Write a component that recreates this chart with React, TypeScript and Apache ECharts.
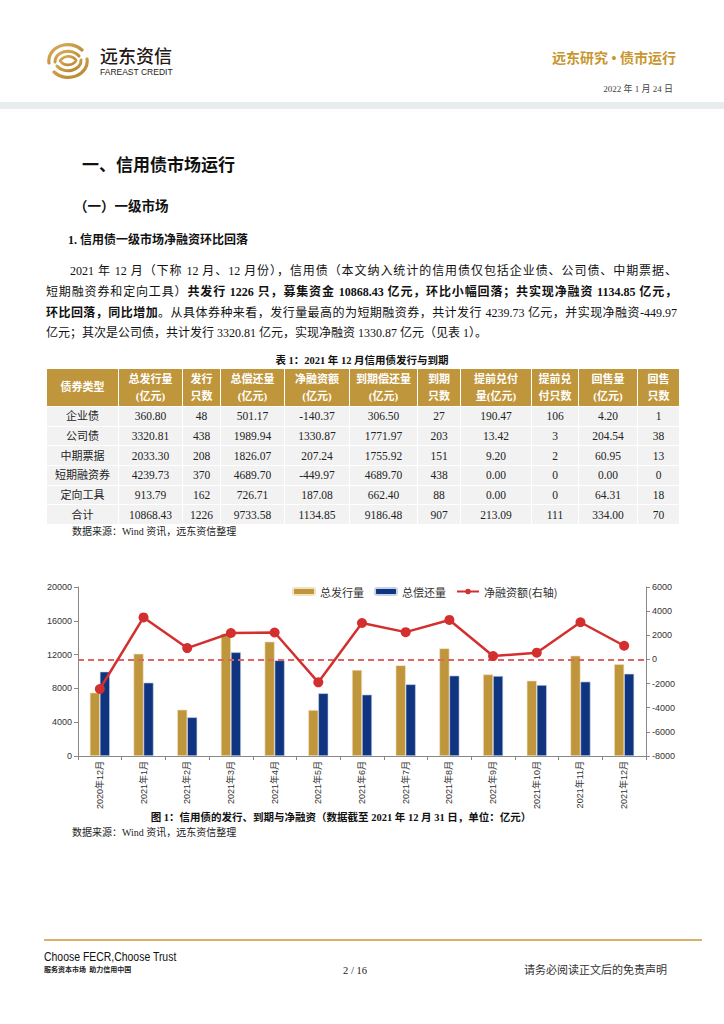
import React, { useEffect, useRef } from "react";
import * as echarts from "echarts";

// ---------- chart data ----------
const categories = [
  "2020年12月", "2021年1月", "2021年2月", "2021年3月", "2021年4月", "2021年5月", "2021年6月",
  "2021年7月", "2021年8月", "2021年9月", "2021年10月", "2021年11月", "2021年12月",
];
const issuance = [7500, 12100, 5480, 14480, 13530, 5440, 10180, 10730, 12740, 9660, 8920, 11870, 10868.43];
const repayment = [9980, 8680, 4580, 12270, 11320, 7420, 7260, 8480, 9510, 9470, 8400, 8800, 9733.58];
const netFinancing = [-2450, 3480, 940, 2190, 2230, -1900, 3020, 2260, 3270, 280, 560, 3080, 1134.85];

const seriesNames = ["总发行量", "总偿还量", "净融资额(右轴)"];

// ---------- table data ----------
const tableHeaderTop = ["债券类型", "总发行量", "发行", "总偿还量", "净融资额", "到期偿还量", "到期", "提前兑付", "提前兑", "回售量", "回售"];
const tableHeaderBottom = ["", "(亿元)", "只数", "(亿元)", "(亿元)", "(亿元)", "只数", "量(亿元)", "付只数", "(亿元)", "只数"];
const rowNames = ["企业债", "公司债", "中期票据", "短期融资券", "定向工具", "合计"];
const rowValues = [
  ["360.80", "48", "501.17", "-140.37", "306.50", "27", "190.47", "106", "4.20", "1"],
  ["3320.81", "438", "1989.94", "1330.87", "1771.97", "203", "13.42", "3", "204.54", "38"],
  ["2033.30", "208", "1826.07", "207.24", "1755.92", "151", "9.20", "2", "60.95", "13"],
  ["4239.73", "370", "4689.70", "-449.97", "4689.70", "438", "0.00", "0", "0.00", "0"],
  ["913.79", "162", "726.71", "187.08", "662.40", "88", "0.00", "0", "64.31", "18"],
  ["10868.43", "1226", "9733.58", "1134.85", "9186.48", "907", "213.09", "111", "334.00", "70"],
];

// layout constants
const colWidths = [72, 64, 38, 64, 65, 68, 43, 71, 47, 59, 42];

const SERIF = '"Liberation Serif", "Noto Sans CJK SC", serif';
const SANS = '"Liberation Sans", "Noto Sans CJK SC", sans-serif';

const GOLD = "#C0963C";
const BLUE = "#0F3581";
const RED = "#D42F2F";

function T(props: {
  x: number; cy: number; fs: number; children: any; bold?: boolean; color?: string;
  font?: string; align?: "left" | "right" | "center"; w?: number; style?: any; lhf?: number;
}) {
  const { x, cy, fs, children, bold, color, font, align, w, style, lhf } = props;
  const lh = fs * (lhf || 1.4);
  const base: any = {
    position: "absolute",
    top: cy - lh / 2,
    fontSize: fs,
    lineHeight: lh + "px",
    fontWeight: bold ? 700 : 400,
    color: color || "#111",
    fontFamily: font || SERIF,
    whiteSpace: "nowrap",
  };
  if (align === "right") { base.right = 724 - x; base.textAlign = "right"; }
  else if (align === "center") { base.left = x - (w || 400) / 2; base.width = w || 400; base.textAlign = "center"; }
  else { base.left = x; }
  return <div style={{ ...base, ...style }}>{children}</div>;
}

function Chart() {
  const ref = useRef<HTMLDivElement>(null);
  useEffect(() => {
    if (!ref.current) return;
    const chart = echarts.init(ref.current, undefined, { renderer: "svg" });
    const axisLineStyle = { color: "#888", width: 1 };
    const plain = (v: number) => String(v);
    chart.setOption({
      animation: false,
      textStyle: { fontFamily: SANS },
      legend: {
        left: 267,
        top: 11,
        itemWidth: 22,
        itemHeight: 7,
        itemGap: 10,
        textStyle: { fontSize: 11, color: "#333", fontFamily: '"Noto Sans CJK SC", sans-serif' },
        data: seriesNames,
      },
      grid: { left: 58, right: 54, top: 17, bottom: 64 },
      xAxis: {
        type: "category",
        data: categories,
        axisLine: { lineStyle: axisLineStyle },
        axisTick: { show: true, length: 4, lineStyle: axisLineStyle },
        axisLabel: { rotate: 90, fontSize: 9, color: "#333", margin: 5, interval: 0 },
      },
      yAxis: [
        {
          type: "value", min: 0, max: 20000, interval: 4000,
          axisLine: { show: true, lineStyle: axisLineStyle },
          axisTick: { show: true, length: 4, lineStyle: axisLineStyle },
          splitLine: { show: false },
          axisLabel: { fontSize: 9, color: "#333", margin: 6, formatter: plain },
        },
        {
          type: "value", position: "right", min: -8000, max: 6000, interval: 2000,
          axisLine: { show: true, lineStyle: axisLineStyle },
          axisTick: { show: true, length: 4, lineStyle: axisLineStyle },
          splitLine: { show: false },
          axisLabel: { fontSize: 9, color: "#333", margin: 6, formatter: plain },
        },
      ],
      series: [
        {
          name: seriesNames[0], type: "bar", data: issuance, barWidth: 10, barGap: "0%",
          itemStyle: { color: GOLD, borderColor: "#F1E2C0", borderWidth: 0.6 },
        },
        {
          name: seriesNames[1], type: "bar", data: repayment, barWidth: 10, barGap: "0%",
          itemStyle: { color: BLUE, borderColor: "#C8D2E6", borderWidth: 0.6 },
        },
        {
          name: seriesNames[2], type: "line", yAxisIndex: 1, data: netFinancing,
          symbol: "circle", symbolSize: 10, z: 5,
          lineStyle: { width: 2.5, color: RED },
          itemStyle: { color: RED },
          markLine: {
            silent: true, symbol: "none", label: { show: false },
            lineStyle: { type: [6, 4], color: "#E06666", width: 2 },
            data: [{ yAxis: 0 }],
          },
        },
      ],
    });
    return () => chart.dispose();
  }, []);
  return (
    <div ref={ref} style={{ position: "absolute", left: 20, top: 570, width: 680, height: 250 }} />
  );
}

function Logo() {
  const stroke = "url(#goldg)";
  return (
    <svg width={44} height={36} viewBox="0 0 44 36" style={{ position: "absolute", left: 46, top: 43 }}>
      <defs>
        <linearGradient id="goldg" x1="0" y1="0" x2="1" y2="1">
          <stop offset="0" stopColor="#D8AE5C" />
          <stop offset="1" stopColor="#B5842E" />
        </linearGradient>
      </defs>
      <g fill="none" stroke={stroke} strokeLinecap="round">
        <path d="M3 20 A19 16 0 0 1 36 7" strokeWidth={3.2} />
        <path d="M41 16 A19 16 0 0 1 8 29" strokeWidth={3.2} />
        <path d="M9 19 A13 10 0 0 1 33 13" strokeWidth={3} />
        <path d="M35 17 A13 10 0 0 1 11 23" strokeWidth={3} />
        <path d="M14 18 C18 12 26 12 30 17" strokeWidth={2.6} />
        <path d="M30 18 C26 23 19 23 15 19" strokeWidth={2.6} />
      </g>
    </svg>
  );
}

function JLine(props: { top: number; children: any; indent?: number; last?: boolean }) {
  const { top, children, indent, last } = props;
  return (
    <div
      style={{
        position: "absolute",
        left: 46 + (indent || 0),
        top,
        width: 631 - (indent || 0),
        fontSize: 12,
        lineHeight: "20px",
        fontFamily: SERIF,
        color: "#111",
        textAlign: "justify",
        textAlignLast: last ? "left" : "justify",
        whiteSpace: "nowrap",
      } as any}
    >
      {children}
    </div>
  );
}

function Table() {
  const cellBase: any = {
    border: "1.5px solid #fff",
    padding: 0,
    textAlign: "center",
    overflow: "hidden",
    whiteSpace: "nowrap",
  };
  return (
    <table
      style={{
        position: "absolute", left: 46, top: 368, width: 633, borderCollapse: "collapse",
        tableLayout: "fixed", fontFamily: SERIF,
      }}
    >
      <colgroup>
        {colWidths.map((w, i) => <col key={i} style={{ width: w }} />)}
      </colgroup>
      <tbody>
        <tr style={{ height: 38 }}>
          {tableHeaderTop.map((h, i) => (
            <td key={i} style={{ ...cellBase, background: GOLD, color: "#fff", fontWeight: 700, fontSize: 11, lineHeight: "17px" }}>
              {h}
              {tableHeaderBottom[i] ? <><br />{tableHeaderBottom[i]}</> : null}
            </td>
          ))}
        </tr>
        {rowNames.map((name, r) => (
          <tr key={r} style={{ height: 19.7 }}>
            <td style={{ ...cellBase, background: "#F2F2F2", fontSize: 11, color: "#222", lineHeight: "16px" }}>{name}</td>
            {rowValues[r].map((v, c) => (
              <td key={c} style={{ ...cellBase, background: "#F2F2F2", fontSize: 11.5, color: "#222", lineHeight: "16px" }}>{v}</td>
            ))}
          </tr>
        ))}
      </tbody>
    </table>
  );
}

export default function App() {
  return (
    <div style={{ position: "absolute", left: 0, top: 0, width: 724, height: 1024, background: "#fff", overflow: "hidden" }}>
      {/* header */}
      <Logo />
      <T x={100} cy={56} fs={18} lhf={1.1} font='"Noto Sans CJK SC", sans-serif' color="#231815" style={{ fontWeight: 500 }}>远东资信</T>
      <T x={100} cy={72.5} fs={8.5} lhf={1.1} font={SANS} color="#231815">FAREAST CREDIT</T>
      <T x={676} cy={59} fs={14} bold color="#C8962E" align="right">远东研究 • 债市运行</T>
      <T x={673} cy={89} fs={9} color="#444" align="right">2022 年 1 月 24 日</T>
      <div style={{ position: "absolute", left: 0, top: 102, width: 724, height: 7, background: "#E8ECEC" }} />

      {/* headings */}
      <T x={82} cy={166} fs={17} bold>一、信用债市场运行</T>
      <T x={74} cy={207} fs={13.5} bold>（一）一级市场</T>
      <T x={68} cy={240} fs={12} bold>1. 信用债一级市场净融资环比回落</T>

      {/* paragraph */}
      <JLine top={261} indent={24}>2021 年 12 月（下称 12 月、12 月份），信用债（本文纳入统计的信用债仅包括企业债、公司债、中期票据、</JLine>
      <JLine top={282}>短期融资券和定向工具）<b>共发行 1226 只，募集资金 10868.43 亿元，环比小幅回落；共实现净融资 1134.85 亿元，</b></JLine>
      <JLine top={303}><b>环比回落，同比增加</b>。从具体券种来看，发行量最高的为短期融资券，共计发行 4239.73 亿元，并实现净融资-449.97</JLine>
      <JLine top={323} last>亿元；其次是公司债，共计发行 3320.81 亿元，实现净融资 1330.87 亿元（见表 1）。</JLine>

      {/* table */}
      <T x={362} cy={361} fs={10.5} bold align="center">表 1：2021 年 12 月信用债发行与到期</T>
      <Table />
      <T x={72} cy={532} fs={10} color="#222">数据来源：Wind 资讯，远东资信整理</T>

      {/* chart */}
      <Chart />
      <T x={341} cy={818} fs={10.5} bold align="center" w={500}>图 1：信用债的发行、到期与净融资（数据截至 2021 年 12 月 31 日，单位：亿元）</T>
      <T x={72} cy={833} fs={10} color="#222">数据来源：Wind 资讯，远东资信整理</T>

      {/* footer */}
      <div style={{ position: "absolute", left: 44, top: 939, width: 658, height: 2, background: "#D8B26A" }} />
      <T x={44} cy={957} fs={12} font={SANS} color="#111" style={{ transform: "scaleX(0.87)", transformOrigin: "left center" }}>Choose FECR,Choose Trust</T>
      <T x={44} cy={970} fs={7} bold font='"Noto Sans CJK SC", sans-serif' color="#222">服务资本市场&nbsp;&nbsp;助力信用中国</T>
      <T x={355} cy={971} fs={10.5} align="center" w={80} color="#222">2 / 16</T>
      <T x={524} cy={971} fs={11} color="#333">请务必阅读正文后的免责声明</T>
    </div>
  );
}
